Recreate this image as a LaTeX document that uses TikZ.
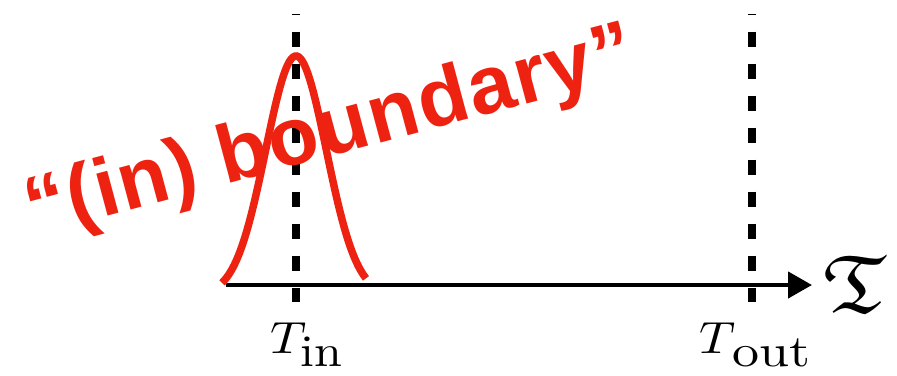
\documentclass[tikz,border=0pt]{standalone}
\usepackage{amssymb}
\usepackage{graphicx}
\usepackage{fontspec}
\newfontfamily\labelfont[LetterSpace=2]{Liberation Sans}
\usetikzlibrary{arrows.meta}
\definecolor{bred}{RGB}{238,34,17}
\tikzset{
  vdash/.style={line width=8pt, dash pattern=on 15pt off 17pt, dash phase=14.5pt},
  axisline/.style={line width=4.5pt, -{Triangle[length=24pt,width=26pt]}},
  curve/.style={bred, line width=7.5pt},
  tlabel/.style={inner sep=0pt, anchor=base west},
  redtext/.style={inner sep=0pt, anchor=base west, text=bred, rotate=15, font=\labelfont\bfseries\fontsize{82}{90}\selectfont}
}
\begin{document}
\begin{tikzpicture}[x=1pt,y=-1pt]
\useasboundingbox (0,0) rectangle (897,375);
\coordinate (inTop) at (296,14);
\coordinate (inBot) at (296,302);
\coordinate (outTop) at (752,14);
\coordinate (outBot) at (752,302);
\coordinate (axS) at (226,285);
\coordinate (axE) at (812,285);
\draw[vdash] (inTop) -- (inBot);
\draw[vdash] (outTop) -- (outBot);
\draw[axisline] (axS) -- (axE);
\node[inner sep=0pt, anchor=west] (frak) at (823,284) {\scalebox{9.4}[8.2]{$\mathfrak{T}$}};
\node[tlabel] (tin) at (270,353) {\scalebox{5}[4.5]{$T\mkern-2mu\raisebox{-2.9pt}{$\mathrm{in}$}$}};
\node[tlabel] (tout) at (699,353) {\scalebox{5}[4.5]{$T\mkern-1mu\raisebox{-2.9pt}{\scalebox{1.08}[1]{$\mathrm{out}$}}$}};
\draw[curve, domain=222:366, samples=80, variable=\t] plot ({\t},{295-239*exp(-((\t-296)*(\t-296))/1840)});
\node[redtext] (lbl) at (33,236) {“(in) boundary”};
\end{tikzpicture}
\end{document}
